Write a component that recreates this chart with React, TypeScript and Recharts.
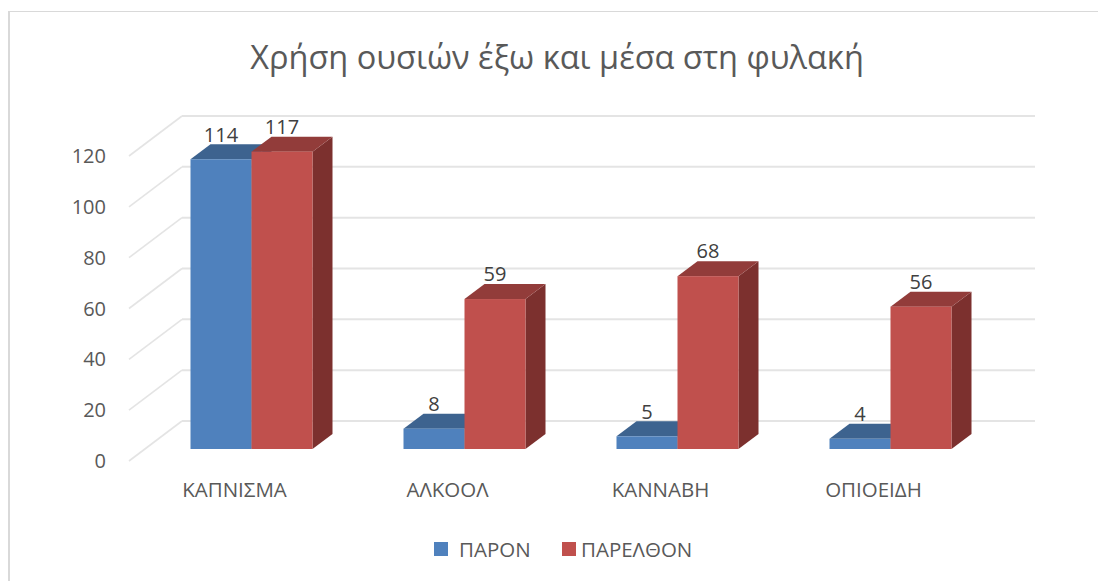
import React from "react";
import { BarChart, Bar, XAxis, YAxis, CartesianGrid, Legend, LabelList } from "recharts";

const categories = ["ΚΑΠΝΙΣΜΑ", "ΑΛΚΟΟΛ", "ΚΑΝΝΑΒΗ", "ΟΠΙΟΕΙΔΗ"];
const paron = [114, 8, 5, 4];
const parelthon = [117, 59, 68, 56];
const yTicks = [0, 20, 40, 60, 80, 100, 120];
const titleText = "Χρήση ουσιών έξω και μέσα στη φυλακή";

const data = categories.map((name, i) => ({ name, paron: paron[i], parelthon: parelthon[i] }));

const FONT = '"Open Sans", sans-serif';
const DX = 20;
const DY = 15;

const makeBox = (front: string, top: string, side: string) => (props: any) => {
  const { x, y, width, height } = props;
  return (
    <g>
      <polygon points={`${x + width},${y} ${x + width + DX},${y - DY} ${x + width + DX},${y + height - DY} ${x + width},${y + height}`} fill={side} />
      <polygon points={`${x},${y} ${x + DX},${y - DY} ${x + width + DX},${y - DY} ${x + width},${y}`} fill={top} />
      <rect x={x} y={y} width={width} height={height} fill={front} />
    </g>
  );
};

const gridLine = (props: any) => {
  const y = props.y1;
  const stroke = "#e4e4e4";
  return (
    <g key={`g-${y}`}>
      <line x1={129} y1={y + 12} x2={182} y2={y - 28} stroke={stroke} strokeWidth={1.6} />
      <line x1={182} y1={y - 28} x2={1035} y2={y - 28} stroke={stroke} strokeWidth={2} />
    </g>
  );
};

const YTick = (props: any) => (
  <text x={106} y={props.y + 19} textAnchor="end" fontFamily={FONT} fontSize={20} fill="#595959">
    {props.payload.value}
  </text>
);

const XTick = (props: any) => (
  <text x={props.x - 16.5} y={props.y + 40} textAnchor="middle" fontFamily={FONT} fontSize={20.5} fill="#595959">
    {props.payload.value}
  </text>
);

const LegendBox = (props: any) => (
  <div style={{ position: "relative", width: 1098, height: 30, fontFamily: FONT, fontSize: 20.5, color: "#595959" }}>
    {(props.payload || []).map((p: any, i: number) => {
      const left = i === 0 ? 434 : 562;
      return (
        <div key={p.value} style={{ position: "absolute", left, top: 0, display: "flex", alignItems: "center", height: 30, whiteSpace: "nowrap" }}>
          <span style={{ display: "inline-block", width: 14, height: 14, background: p.color, marginRight: i === 0 ? 11 : 5 }} />
          <span>{p.value}</span>
        </div>
      );
    })}
  </div>
);

export default function App() {
  return (
    <div style={{ position: "absolute", left: 0, top: 0, width: 1098, height: 581, background: "#fff", overflow: "hidden" }}>
      <div style={{ position: "absolute", left: 8, top: 11, right: 0, bottom: 0, borderLeft: "2px solid #d9d9d9", borderTop: "1.5px solid #d9d9d9" }} />
      <BarChart
        width={1098}
        height={581}
        data={data}
        margin={{ top: 144, right: 101.5, bottom: 72, left: 0 }}
        barGap={0}
        barSize={61}
        style={{ position: "absolute", left: 0, top: 0 }}
      >
        <text x={557} y={69} textAnchor="middle" fontFamily={FONT} fontSize={32.5} fill="#595959">
          {titleText}
        </text>
        <CartesianGrid horizontal={gridLine} vertical={false} />
        <XAxis dataKey="name" axisLine={false} tickLine={false} tick={<XTick />} interval={0} />
        <YAxis width={144.5} domain={[0, 120]} ticks={yTicks} axisLine={false} tickLine={false} tick={<YTick />} interval={0} />
        <Legend content={<LegendBox />} itemSorter={null} wrapperStyle={{ left: 0, top: 534, width: 1098, height: 30 }} />
        <Bar dataKey="paron" name="ΠΑΡΟΝ" fill="#4f81bd" shape={makeBox("#4f81bd", "#3d638f", "#30527c")} isAnimationActive={false}>
          <LabelList dataKey="paron" position="top" offset={17.5} fontFamily={FONT} fontSize={20} fill="#404040" />
        </Bar>
        <Bar dataKey="parelthon" name="ΠΑΡΕΛΘΟΝ" fill="#c0504d" shape={makeBox("#c0504d", "#923c3a", "#7c302e")} isAnimationActive={false}>
          <LabelList dataKey="parelthon" position="top" offset={18} fontFamily={FONT} fontSize={20} fill="#404040" />
        </Bar>
      </BarChart>
    </div>
  );
}
